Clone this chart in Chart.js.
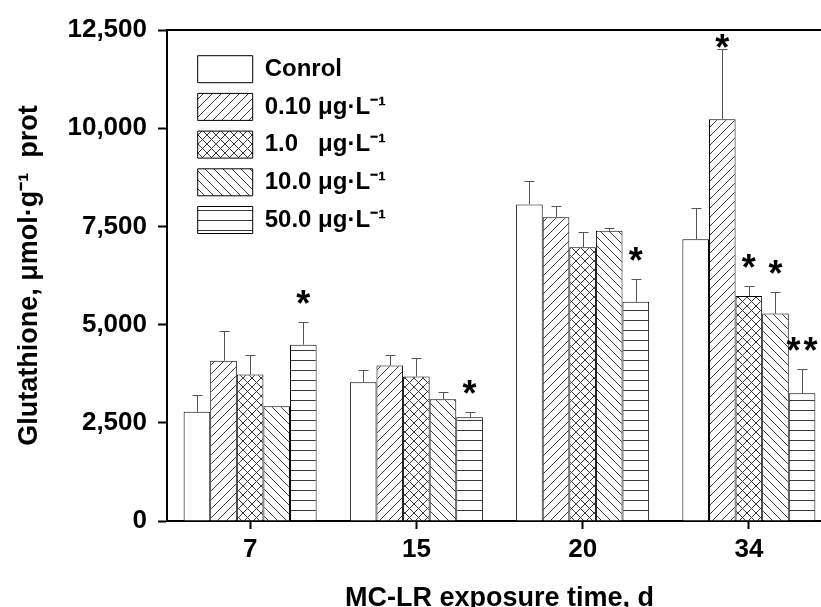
<!DOCTYPE html>
<html>
<head>
<meta charset="utf-8">
<script src="https://cdn.jsdelivr.net/npm/chart.js@4.4.1/dist/chart.umd.min.js"></script>
<style>
  html, body { margin: 0; padding: 0; background: #fff; overflow: hidden; }
  #wrap { position: relative; width: 860px; height: 607px; }
</style>
</head>
<body>
<div id="wrap"><canvas id="c"></canvas></div>
<script>
// ---- data ----
const categories = ['7', '15', '20', '34'];
const seriesLabels = ['Conrol', '0.10 \u03BCg\u00B7L\u207B\u00B9', '1.0   \u03BCg\u00B7L\u207B\u00B9', '10.0 \u03BCg\u00B7L\u207B\u00B9', '50.0 \u03BCg\u00B7L\u207B\u00B9'];
const controlValues = [2780, 3530, 8060, 7170];
const dose010Values = [4080, 3960, 7730, 10230];
const dose1Values   = [3730, 3680, 6970, 5730];
const dose10Values  = [2920, 3100, 7390, 5280];
const dose50Values  = [4490, 2640, 5580, 3250];
const controlErrors = [430, 310, 590, 810];
const dose010Errors = [750, 270, 300, 1790];
const dose1Errors   = [500, 460, 380, 260];
const dose10Errors  = [0, 180, 80, 560];
const dose50Errors  = [570, 130, 590, 630];
const controlMarks = ['', '', '', ''];
const dose010Marks = ['', '', '', '*'];
const dose1Marks   = ['', '', '', '*'];
const dose10Marks  = ['', '', '', '*'];
const dose50Marks  = ['*', '*', '*', '**'];
const yTicks = [0, 2500, 5000, 7500, 10000, 12500];
const yTitle = 'Glutathione, \u03BCmol\u00B7g\u207B\u00B9  prot';
const xTitle = 'MC-LR exposure time, d';

// ---- patterns ----
function makePattern(kind) {
  const c = document.createElement('canvas');
  const s = kind === 'h' ? 10 : 9;
  c.width = s; c.height = s;
  const g = c.getContext('2d');
  g.fillStyle = '#ffffff';
  g.fillRect(0, 0, s, s);
  if (kind === 'none') return g.createPattern(c, 'repeat');
  g.strokeStyle = '#3a3a3a';
  g.lineWidth = 1;
  g.beginPath();
  if (kind === 'f' || kind === 'x') {
    g.moveTo(-1, s + 1); g.lineTo(s + 1, -1);
    g.moveTo(-1, 1); g.lineTo(1, -1);
    g.moveTo(s - 1, s + 1); g.lineTo(s + 1, s - 1);
  }
  if (kind === 'b' || kind === 'x') {
    g.moveTo(-1, -1); g.lineTo(s + 1, s + 1);
    g.moveTo(s - 1, -1); g.lineTo(s + 1, 1);
    g.moveTo(-1, s - 1); g.lineTo(1, s + 1);
  }
  if (kind === 'h') {
    g.moveTo(0, 0.5); g.lineTo(s, 0.5);
  }
  g.stroke();
  return g.createPattern(c, 'repeat');
}

const FONT = "'Liberation Sans', Arial, sans-serif";
const valueSets = [controlValues, dose010Values, dose1Values, dose10Values, dose50Values];
const errorSets = [controlErrors, dose010Errors, dose1Errors, dose10Errors, dose50Errors];
const markSets  = [controlMarks, dose010Marks, dose1Marks, dose10Marks, dose50Marks];
const patternKinds = ['none', 'f', 'x', 'b', 'h'];

const datasets = valueSets.map((vals, i) => ({
  label: seriesLabels[i],
  data: vals,
  backgroundColor: makePattern(patternKinds[i]),
  borderColor: '#000000',
  borderWidth: 1,
  categoryPercentage: 0.8,
  barPercentage: 1.0
}));

const errorPlugin = {
  id: 'errorBars',
  afterDatasetsDraw(chart) {
    const ctx = chart.ctx;
    const y = chart.scales.y;
    const top = chart.chartArea.top;
    ctx.save();
    datasets.forEach((ds, i) => {
      const meta = chart.getDatasetMeta(i);
      meta.data.forEach((bar, j) => {
        const v = valueSets[i][j];
        const e = errorSets[i][j];
        const yTop = y.getPixelForValue(v + e);
        if (e > 0) {
          ctx.strokeStyle = '#555555';
          ctx.lineWidth = 1;
          ctx.beginPath();
          const x = Math.round(bar.x) + 0.5;
          ctx.moveTo(x, bar.y);
          ctx.lineTo(x, Math.round(yTop) + 0.5);
          ctx.moveTo(x - 5, Math.round(yTop) + 0.5);
          ctx.lineTo(x + 5, Math.round(yTop) + 0.5);
          ctx.stroke();
        }
        const m = markSets[i][j];
        if (m) {
          ctx.fillStyle = '#000000';
          ctx.font = 'bold 36px ' + FONT;
          ctx.textAlign = 'center';
          ctx.textBaseline = 'alphabetic';
          const ls = m.length > 1 ? 3 : 0;
          if ('letterSpacing' in ctx) ctx.letterSpacing = ls + 'px';
          const base = Math.max(yTop - 6, top + 30);
          ctx.fillText(m, bar.x + ls / 2, base);
        }
      });
    });
    ctx.restore();
  }
};

const legendPlace = {
  id: 'legendPlace',
  afterLayout(chart) {
    const lg = chart.legend;
    const ca = chart.chartArea;
    if (!lg) return;
    lg.left = ca.left + 20;
    lg.top = ca.top + 15;
    lg.right = lg.left + lg.width;
    lg.bottom = ca.bottom;
  }
};

new Chart(document.getElementById('c'), {
  type: 'bar',
  data: { labels: categories, datasets },
  plugins: [errorPlugin, legendPlace],
  options: {
    responsive: true,
    maintainAspectRatio: false,
    animation: false,
    devicePixelRatio: 1,
    layout: { padding: { top: 30, right: 28, left: 0, bottom: 0 } },
    plugins: {
      tooltip: { enabled: false },
      legend: {
        position: 'chartArea',
        align: 'start',
        labels: {
          boxWidth: 55,
          boxHeight: 27,
          padding: 10.7,
          color: '#000000',
          font: { family: FONT, size: 24, weight: 'bold' }
        }
      }
    },
    scales: {
      x: {
        type: 'category',
        position: 'bottom',
        offset: true,
        grid: { display: true, drawOnChartArea: false, offset: false, drawTicks: true, tickLength: 8, tickWidth: 2, tickColor: '#000000' },
        border: { display: true, color: '#000000', width: 2 },
        ticks: { color: '#000000', padding: 5, font: { family: FONT, size: 26, weight: 'bold' } },
        title: {
          display: true, text: xTitle, color: '#000000',
          font: { family: FONT, size: 27, weight: 'bold', lineHeight: 1 },
          padding: { top: 0, bottom: -5.5 }
        },
        afterFit(s) { s.height = 86; }
      },
      x2: {
        type: 'category',
        position: 'top',
        labels: categories,
        offset: true,
        grid: { display: false },
        ticks: { display: false },
        border: { display: true, color: '#000000', width: 2 },
        afterFit(s) { s.height = 0; }
      },
      y: {
        type: 'linear',
        min: 0,
        max: 12500,
        afterBuildTicks(s) { s.ticks = yTicks.map(v => ({ value: v })); },
        grid: { display: true, drawOnChartArea: false, drawTicks: true, tickLength: 9, tickWidth: 2, tickColor: '#000000' },
        border: { display: true, color: '#000000', width: 2 },
        ticks: {
          color: '#000000', padding: 11,
          font: { family: FONT, size: 26, weight: 'bold' },
          callback: (v) => Number(v).toLocaleString('en-US')
        },
        title: {
          display: true, text: yTitle, color: '#000000',
          font: { family: FONT, size: 27, weight: 'bold', lineHeight: 1 },
          padding: { top: 16.5, bottom: 0 }
        },
        afterFit(s) { s.width = 167; }
      }
    }
  }
});
</script>
</body>
</html>
